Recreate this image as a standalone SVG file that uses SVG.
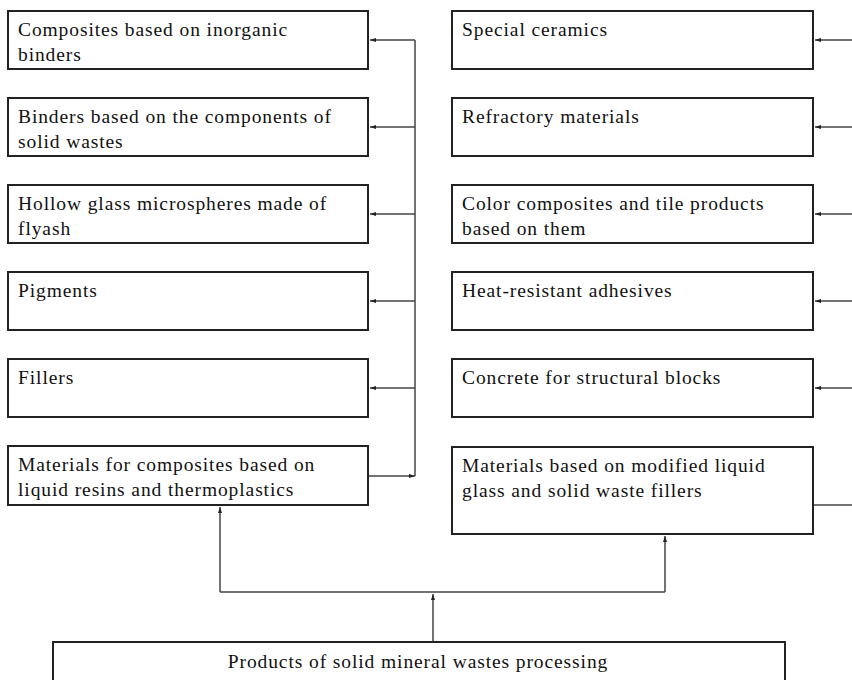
<svg xmlns="http://www.w3.org/2000/svg" width="852" height="680" viewBox="0 0 852 680">
<style>
.box{fill:#fff;stroke:#222;stroke-width:2}
.t{font-family:'Liberation Serif', 'Times New Roman', 'DejaVu Serif', serif;font-size:19.5px;letter-spacing:0.9px;fill:#111}
.c{fill:none;stroke:#444;stroke-width:1.5}
</style>
<defs>
<marker id="ah" viewBox="0 0 6 6" refX="6" refY="3" markerWidth="6" markerHeight="6" markerUnits="userSpaceOnUse" orient="auto">
<path d="M0,1 L6,3 L0,5 z" fill="#222"/>
</marker>
</defs>
<rect width="852" height="680" fill="#fff"/>
<g id="connectors">
<line class="c" x1="415" y1="40" x2="415" y2="476"/>
<line class="c" x1="415" y1="40" x2="370" y2="40" marker-end="url(#ah)"/>
<line class="c" x1="415" y1="127" x2="370" y2="127" marker-end="url(#ah)"/>
<line class="c" x1="415" y1="214" x2="370" y2="214" marker-end="url(#ah)"/>
<line class="c" x1="415" y1="301" x2="370" y2="301" marker-end="url(#ah)"/>
<line class="c" x1="415" y1="388" x2="370" y2="388" marker-end="url(#ah)"/>
<line class="c" x1="369" y1="476" x2="415" y2="476" marker-end="url(#ah)"/>
<line class="c" x1="852" y1="40" x2="815" y2="40" marker-end="url(#ah)"/>
<line class="c" x1="852" y1="127" x2="815" y2="127" marker-end="url(#ah)"/>
<line class="c" x1="852" y1="214" x2="815" y2="214" marker-end="url(#ah)"/>
<line class="c" x1="852" y1="301" x2="815" y2="301" marker-end="url(#ah)"/>
<line class="c" x1="852" y1="388" x2="815" y2="388" marker-end="url(#ah)"/>
<line class="c" x1="814" y1="505" x2="852" y2="505"/>
<line class="c" x1="433" y1="642" x2="433" y2="594" marker-end="url(#ah)"/>
<polyline class="c" points="220,592 665,592"/>
<line class="c" x1="220" y1="592" x2="220" y2="507" marker-end="url(#ah)"/>
<line class="c" x1="665" y1="592" x2="665" y2="536" marker-end="url(#ah)"/>
</g>
<g id="n1"><rect class="box" x="8" y="11" width="360" height="58"/><text class="t" x="18" y="36">Composites based on inorganic</text><text class="t" x="18" y="61">binders</text></g>
<g id="n2"><rect class="box" x="8" y="98" width="360" height="58"/><text class="t" x="18" y="123">Binders based on the components of</text><text class="t" x="18" y="148">solid wastes</text></g>
<g id="n3"><rect class="box" x="8" y="185" width="360" height="58"/><text class="t" x="18" y="210">Hollow glass microspheres made of</text><text class="t" x="18" y="235">flyash</text></g>
<g id="n4"><rect class="box" x="8" y="272" width="360" height="58"/><text class="t" x="18" y="297">Pigments</text></g>
<g id="n5"><rect class="box" x="8" y="359" width="360" height="58"/><text class="t" x="18" y="384">Fillers</text></g>
<g id="n6"><rect class="box" x="8" y="446" width="360" height="59"/><text class="t" x="18" y="471">Materials for composites based on</text><text class="t" x="18" y="496">liquid resins and thermoplastics</text></g>
<g id="r1"><rect class="box" x="452" y="11" width="361" height="58"/><text class="t" x="462" y="36">Special ceramics</text></g>
<g id="r2"><rect class="box" x="452" y="98" width="361" height="58"/><text class="t" x="462" y="123">Refractory materials</text></g>
<g id="r3"><rect class="box" x="452" y="185" width="361" height="58"/><text class="t" x="462" y="210">Color composites and tile products</text><text class="t" x="462" y="235">based on them</text></g>
<g id="r4"><rect class="box" x="452" y="272" width="361" height="58"/><text class="t" x="462" y="297">Heat-resistant adhesives</text></g>
<g id="r5"><rect class="box" x="452" y="359" width="361" height="58"/><text class="t" x="462" y="384">Concrete for structural blocks</text></g>
<g id="r6"><rect class="box" x="452" y="447" width="361" height="87"/><text class="t" x="462" y="472">Materials based on modified liquid</text><text class="t" x="462" y="497">glass and solid waste fillers</text></g>
<g id="bottom"><rect class="box" x="53" y="642" width="732" height="48"/><text class="t" x="418" y="668" text-anchor="middle">Products of solid mineral wastes processing</text></g>
</svg>
